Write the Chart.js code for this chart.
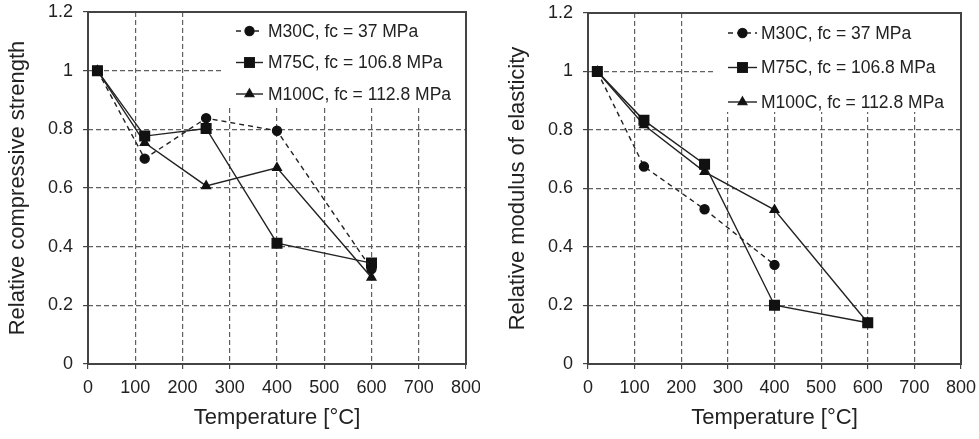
<!DOCTYPE html>
<html>
<head>
<meta charset="utf-8">
<script src="https://cdn.jsdelivr.net/npm/chart.js@4.4.1/dist/chart.umd.min.js"></script>
<style>
   html, body { margin: 0; padding: 0; background: #fff; }
   body { width: 979px; height: 439px; position: relative; overflow: hidden; }
   .wrap { position: absolute; top: 0; height: 439px; }
   #wrapLeft { left: 0; width: 480px; }
   #wrapRight { left: 490px; width: 489px; }
   canvas { display: block; }
</style>
</head>
<body>
<div class="wrap" id="wrapLeft"><canvas id="strengthChart" width="480" height="439"></canvas></div>
<div class="wrap" id="wrapRight"><canvas id="modulusChart" width="489" height="439"></canvas></div>
<script>
// temperatures [°C]
const tempsAll = [20, 120, 250, 400, 600];
const tempsM30Modulus = [20, 120, 250, 400];
const xTicks = [0, 100, 200, 300, 400, 500, 600, 700, 800];
const yTicks = [0, 0.2, 0.4, 0.6, 0.8, 1, 1.2];

const seriesLabels = ["M30C, fc = 37 MPa", "M75C, fc = 106.8 MPa", "M100C, fc = 112.8 MPa"];

// relative compressive strength
const strengthM30 = [1, 0.70, 0.838, 0.795, 0.324];
const strengthM75 = [1, 0.777, 0.803, 0.412, 0.344];
const strengthM100 = [1, 0.754, 0.607, 0.669, 0.295];

// relative modulus of elasticity
const modulusM30 = [1, 0.675, 0.529, 0.339];
const modulusM75 = [1, 0.833, 0.683, 0.201, 0.141];
const modulusM100 = [1, 0.817, 0.657, 0.527, 0.141];

const INK = "#222";
const TEXT = "#222";
const GRID = "#606060";
const FONT = "'Liberation Sans', Arial, sans-serif";

function pts(xs, ys) {
   return xs.map((x, i) => ({ x, y: ys[i] }));
}

function makeDatasets(m30, m75, m100, m30x) {
   const common = { borderColor: INK, borderWidth: 1.4, backgroundColor: "#111", pointBorderColor: "#111", fill: false, tension: 0 };
   return [
      { ...common, label: seriesLabels[0], data: pts(m30x, m30), borderDash: [5, 4], pointStyle: "circle", pointRadius: 4.5 },
      { ...common, label: seriesLabels[1], data: pts(tempsAll, m75), pointStyle: "rect", pointRadius: 6.8 },
      { ...common, label: seriesLabels[2], data: pts(tempsAll, m100), pointStyle: "triangle", pointRadius: 5 },
   ];
}

// full box round the plot area
const frameBox = {
   id: "frameBox",
   afterDatasetsDraw(chart) {
      const { ctx, chartArea: a } = chart;
      ctx.save();
      ctx.strokeStyle = "#444";
      ctx.lineWidth = 2;
      ctx.strokeRect(a.left, a.top, a.right - a.left, a.bottom - a.top);
      ctx.restore();
   },
};

// white legend box in the top right corner of the plot
const insetLegend = {
   id: "insetLegend",
   beforeDatasetsDraw(chart, args, opts) {
      const { ctx, chartArea: a } = chart;
      ctx.save();
      ctx.fillStyle = "#fff";
      ctx.fillRect(a.left + opts.boxLeft, a.top + 1, a.right - a.left - opts.boxLeft - 1, opts.boxBottom - 1);
      ctx.restore();
   },
   afterDatasetsDraw(chart, args, opts) {
      const { ctx, chartArea: a } = chart;
      ctx.save();
      chart.data.datasets.forEach((ds, i) => {
         const y = a.top + opts.rows[i];
         const x0 = a.left + opts.sampleX;
         ctx.strokeStyle = INK;
         ctx.lineWidth = 1.4;
         ctx.setLineDash(ds.borderDash || []);
         ctx.beginPath();
         ctx.moveTo(x0, y);
         ctx.lineTo(x0 + opts.sampleW, y);
         ctx.stroke();
         ctx.setLineDash([]);
         Chart.helpers.drawPoint(ctx, { pointStyle: ds.pointStyle, radius: ds.pointRadius, borderWidth: 1 }, x0 + opts.sampleW / 2, y);
         ctx.fillStyle = "#111";
         ctx.fill();
         ctx.fillStyle = TEXT;
         ctx.font = `17.5px ${FONT}`;
         ctx.textBaseline = "middle";
         ctx.fillText(ds.label, a.left + opts.textX, y + 1);
      });
      ctx.restore();
   },
};

function buildChart(canvasId, yTitle, datasets, yWidth, titlePad, padRight, padTop, legendOpts) {
   const ctx = document.getElementById(canvasId).getContext("2d");
   return new Chart(ctx, {
      type: "line",
      data: { datasets },
      plugins: [insetLegend, frameBox],
      options: {
         responsive: false,
         animation: false,
         layout: { autoPadding: false, padding: { left: 0, right: padRight, top: padTop, bottom: 0 } },
         plugins: {
            legend: { display: false },
            tooltip: { enabled: false },
            insetLegend: legendOpts,
         },
         scales: {
            x: {
               type: "linear",
               min: 0,
               max: 800,
               afterBuildTicks: s => { s.ticks = xTicks.map(v => ({ value: v })); },
               afterFit: s => { s.height = 75; s.paddingLeft = 0; s.paddingRight = 0; },
               grid: { color: GRID, lineWidth: 1.2, tickLength: 5, tickColor: "#444" },
               border: { display: false, dash: [5, 3] },
               ticks: { color: TEXT, padding: 8, font: { family: FONT, size: 18 } },
               title: { display: true, text: "Temperature [°C]", color: TEXT, padding: { top: 0, bottom: 8 }, font: { family: FONT, size: 22 } },
            },
            y: {
               min: 0,
               max: 1.2,
               afterBuildTicks: s => { s.ticks = yTicks.map(v => ({ value: v })); },
               afterFit: s => { s.width = yWidth; s.paddingTop = 0; s.paddingBottom = 0; },
               grid: { color: GRID, lineWidth: 1.2, tickLength: 5, tickColor: "#444" },
               border: { display: false, dash: [5, 3] },
               ticks: { color: TEXT, padding: 10, font: { family: FONT, size: 18 }, callback: v => String(+v.toFixed(1)) },
               title: { display: true, text: yTitle, color: TEXT, padding: { top: titlePad, bottom: 0 }, font: { family: FONT, size: 22 } },
            },
         },
      },
   });
}

buildChart("strengthChart", "Relative compressive strength",
   makeDatasets(strengthM30, strengthM75, strengthM100, tempsAll),
   88, 5, 14, 12,
   { boxLeft: 134, boxBottom: 96, sampleX: 148, sampleW: 27, textX: 180, rows: [19, 50.5, 82] });

buildChart("modulusChart", "Relative modulus of elasticity",
   makeDatasets(modulusM30, modulusM75, modulusM100, tempsM30Modulus),
   98, 15, 18, 13,
   { boxLeft: 125, boxBottom: 99, sampleX: 140, sampleW: 29, textX: 173, rows: [20, 54.5, 89] });
</script>
</body>
</html>
